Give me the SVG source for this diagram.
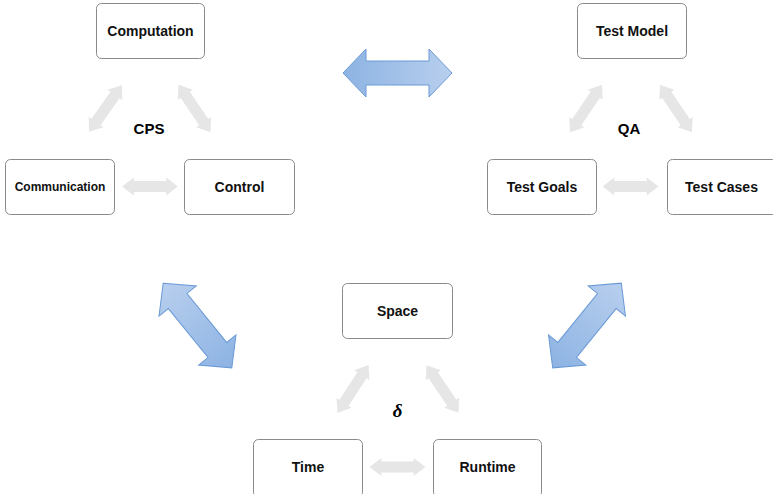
<svg xmlns="http://www.w3.org/2000/svg" xmlns:xlink="http://www.w3.org/1999/xlink" width="773" height="494" viewBox="0 0 773 494">
  <style>
    .box { fill: #ffffff; stroke: #8a8a8a; stroke-width: 1; }
    .lbl { font-family: "Liberation Sans", Arial, sans-serif; font-weight: bold; font-size: 14px; fill: #111111; text-anchor: middle; }
    .small { font-size: 12px; }
    .title { font-family: "Liberation Sans", Arial, sans-serif; font-weight: bold; font-size: 15px; fill: #000000; text-anchor: middle; }
    .delta { font-family: "Liberation Serif", "Times New Roman", serif; font-style: italic; font-weight: bold; font-size: 19px; fill: #000000; text-anchor: middle; }
    .grey { fill: #e6e6e6; stroke: none; }
    .blue { stroke: #6a9ad6; stroke-width: 1; }
  </style>
  <defs>
    <linearGradient id="blueDarkLeft" x1="0" y1="0" x2="1" y2="0">
      <stop offset="0" stop-color="#8db3e3"/>
      <stop offset="1" stop-color="#b8cfee"/>
    </linearGradient>
    <linearGradient id="blueDarkRight" x1="0" y1="0" x2="1" y2="0">
      <stop offset="0" stop-color="#b8cfee"/>
      <stop offset="1" stop-color="#8db3e3"/>
    </linearGradient>
    <path id="bigArrow" d="M -54.5 0 L -31.5 -24 L -31.5 -12 L 31.5 -12 L 31.5 -24 L 54.5 0 L 31.5 24 L 31.5 12 L -31.5 12 L -31.5 24 Z"/>
    <path id="smallArrow" d="M -28.5 0 L -16.5 -9 L -16.5 -5.5 L 16.5 -5.5 L 16.5 -9 L 28.5 0 L 16.5 9 L 16.5 5.5 L -16.5 5.5 L -16.5 9 Z"/>
  </defs>

  <!-- connectors -->
  <g id="connectors">
    <!-- CPS triangle -->
    <use xlink:href="#smallArrow" class="grey" transform="translate(105.5,108.5) rotate(-55)"/>
    <use xlink:href="#smallArrow" class="grey" transform="translate(194.5,108.5) rotate(56)"/>
    <use xlink:href="#smallArrow" class="grey" transform="translate(150,186.5) scale(0.98,1)"/>
    <!-- QA triangle -->
    <use xlink:href="#smallArrow" class="grey" transform="translate(586,108.5) rotate(-56)"/>
    <use xlink:href="#smallArrow" class="grey" transform="translate(676,108.5) rotate(56)"/>
    <use xlink:href="#smallArrow" class="grey" transform="translate(630.5,186.5) scale(0.98,1)"/>
    <!-- delta triangle -->
    <use xlink:href="#smallArrow" class="grey" transform="translate(353,389) rotate(-57)"/>
    <use xlink:href="#smallArrow" class="grey" transform="translate(442.5,389) rotate(56)"/>
    <use xlink:href="#smallArrow" class="grey" transform="translate(397.5,467) scale(0.98,1)"/>
    <!-- links between the three triangles -->
    <use xlink:href="#bigArrow" class="blue" fill="url(#blueDarkLeft)" transform="translate(397.5,73)"/>
    <use xlink:href="#bigArrow" class="blue" fill="url(#blueDarkRight)" transform="translate(197.5,325.5) rotate(51)"/>
    <use xlink:href="#bigArrow" class="blue" fill="url(#blueDarkLeft)" transform="translate(587,325.5) rotate(-51)"/>
  </g>

  <!-- CPS -->
  <g id="computation">
    <rect class="box" x="96.5" y="3.5" width="108" height="55" rx="5"/>
    <text class="lbl" x="150.5" y="36">Computation</text>
  </g>
  <g id="communication">
    <rect class="box" x="5.5" y="159.5" width="109" height="55" rx="5"/>
    <text class="lbl small" x="60" y="191">Communication</text>
  </g>
  <g id="control">
    <rect class="box" x="184.5" y="159.5" width="110" height="55" rx="5"/>
    <text class="lbl" x="239.5" y="192">Control</text>
  </g>
  <g id="cps-label">
    <text class="title" x="149" y="134">CPS</text>
  </g>

  <!-- QA -->
  <g id="test-model">
    <rect class="box" x="577.5" y="3.5" width="109" height="55" rx="5"/>
    <text class="lbl" x="632" y="36">Test Model</text>
  </g>
  <g id="test-goals">
    <rect class="box" x="487.5" y="159.5" width="109" height="55" rx="5"/>
    <text class="lbl" x="542" y="192">Test Goals</text>
  </g>
  <g id="test-cases">
    <rect class="box" x="667.5" y="159.5" width="110" height="55" rx="5"/>
    <text class="lbl" x="721.5" y="192">Test Cases</text>
  </g>
  <g id="qa-label">
    <text class="title" x="629" y="134">QA</text>
  </g>

  <!-- delta -->
  <g id="space">
    <rect class="box" x="342.5" y="283.5" width="110" height="55" rx="5"/>
    <text class="lbl" x="397.5" y="316">Space</text>
  </g>
  <g id="time">
    <rect class="box" x="253.5" y="439.5" width="109" height="58" rx="5"/>
    <text class="lbl" x="308" y="472">Time</text>
  </g>
  <g id="runtime">
    <rect class="box" x="433.5" y="439.5" width="108" height="58" rx="5"/>
    <text class="lbl" x="487.5" y="472">Runtime</text>
  </g>
  <g id="delta-label">
    <text class="delta" x="397.5" y="417">δ</text>
  </g>
</svg>
